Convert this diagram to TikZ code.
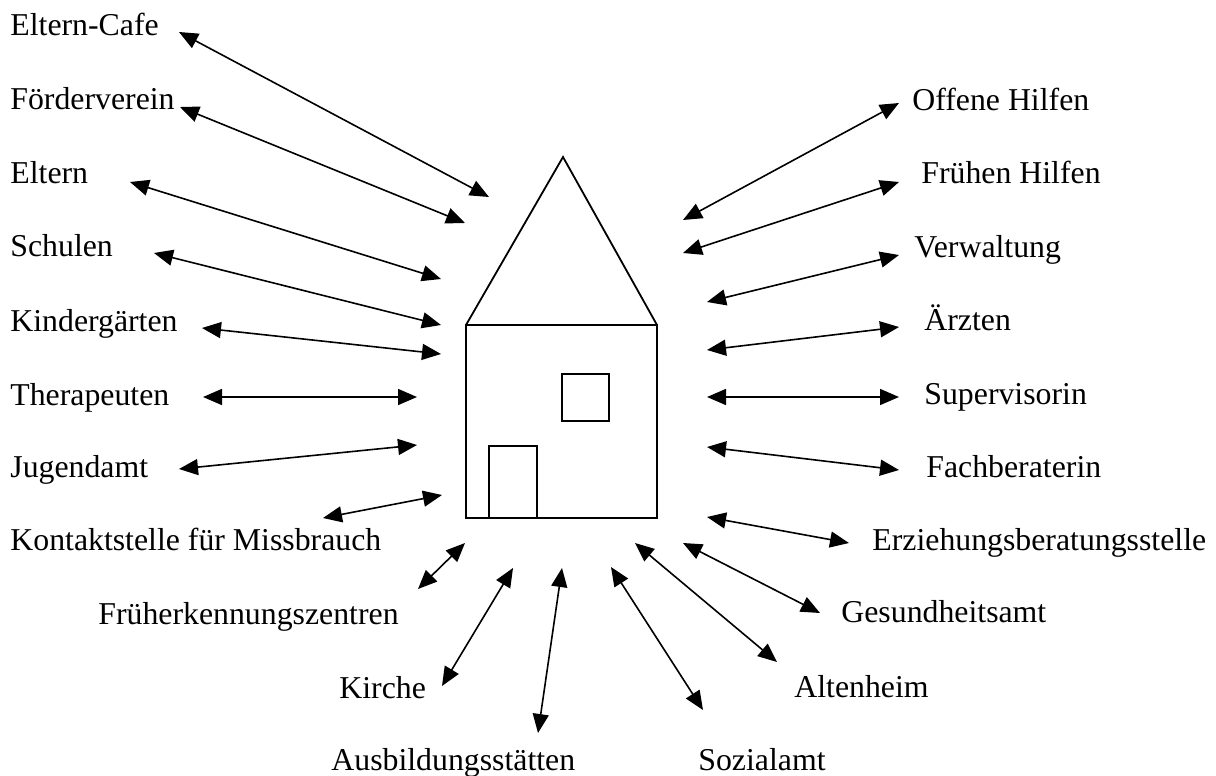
\documentclass[tikz,border=0pt]{standalone}
\usepackage{fontspec}
\setmainfont{Liberation Serif}
\usetikzlibrary{arrows.meta}

\tikzset{
  lbl/.style={anchor=base west, inner sep=0pt},
  link/.style={{Triangle[length=9.5pt,width=8pt]}-{Triangle[length=9.5pt,width=8pt]}, line width=.8pt}
}

\begin{document}
\begin{tikzpicture}[x=.5pt,y=-.5pt]\fontsize{15.9}{19}\selectfont
				\useasboundingbox (0,0) rectangle (1216,776);
				% house
				\draw[line width=.9pt] (466,325) rectangle (657,518);
				\draw[line width=.9pt] (466,325) -- (563,157) -- (657,325);
				\draw[line width=.9pt] (562,374) rectangle (609,421);
				\draw[line width=.9pt] (489,446) rectangle (537,518);
				% left column
				\node[lbl] (cafe) at (10,35) {Eltern-Cafe};
				\coordinate (cafe1) at (179,32); \coordinate (cafe2) at (489,197);
				\draw[link] (cafe1) -- (cafe2);
				\node[lbl] (foerder) at (10,109) {Förderverein};
				\coordinate (foerder1) at (180,107); \coordinate (foerder2) at (465,223);
				\draw[link] (foerder1) -- (foerder2);
				\node[lbl] (eltern) at (10,183) {Eltern};
				\coordinate (eltern1) at (130,182); \coordinate (eltern2) at (441,279);
				\draw[link] (eltern1) -- (eltern2);
				\node[lbl] (schulen) at (10,256) {Schulen};
				\coordinate (schulen1) at (154,253); \coordinate (schulen2) at (441,325);
				\draw[link] (schulen1) -- (schulen2);
				\node[lbl] (kiga) at (10,331) {Kindergärten};
				\coordinate (kiga1) at (202,328); \coordinate (kiga2) at (441,354);
				\draw[link] (kiga1) -- (kiga2);
				\node[lbl] (thera) at (10,405) {Therapeuten};
				\coordinate (thera1) at (203,397); \coordinate (thera2) at (417,397);
				\draw[link] (thera1) -- (thera2);
				\node[lbl] (jugend) at (10,477) {Jugendamt};
				\coordinate (jugend1) at (179,469); \coordinate (jugend2) at (417,445);
				\draw[link] (jugend1) -- (jugend2);
				\node[lbl] (kontakt) at (10,550) {Kontaktstelle für Missbrauch};
				\coordinate (kontakt1) at (323,518); \coordinate (kontakt2) at (442,495);
				\draw[link] (kontakt1) -- (kontakt2);
				% bottom
				\node[lbl] (frueh) at (98,624) {Früherkennungszentren};
				\coordinate (frueh1) at (418,589); \coordinate (frueh2) at (465,543);
				\draw[link] (frueh1) -- (frueh2);
				\node[lbl] (kirche) at (339,698) {Kirche};
				\coordinate (kirche1) at (442,686); \coordinate (kirche2) at (513,568);
				\draw[link] (kirche1) -- (kirche2);
				\node[lbl] (ausb) at (331,770) {Ausbildungsstätten};
				\coordinate (ausb1) at (538,733); \coordinate (ausb2) at (562,568);
				\draw[link] (ausb1) -- (ausb2);
				\node[lbl] (sozial) at (698,770) {Sozialamt};
				\coordinate (sozial1) at (703,710); \coordinate (sozial2) at (611,567);
				\draw[link] (sozial1) -- (sozial2);
				\node[lbl] (alten) at (794,697) {Altenheim};
				\coordinate (alten1) at (777,662); \coordinate (alten2) at (635,543);
				\draw[link] (alten1) -- (alten2);
				\node[lbl] (gesund) at (841,622) {Gesundheitsamt};
				\coordinate (gesund1) at (820,613); \coordinate (gesund2) at (683,543);
				\draw[link] (gesund1) -- (gesund2);
				% right column
				\node[lbl] (erz) at (872,550) {Erziehungsberatungsstelle};
				\coordinate (erz1) at (849,543); \coordinate (erz2) at (707,517);
				\draw[link] (erz1) -- (erz2);
				\node[lbl] (fach) at (926,477) {Fachberaterin};
				\coordinate (fach1) at (899,470); \coordinate (fach2) at (707,447);
				\draw[link] (fach1) -- (fach2);
				\node[lbl] (super) at (924,404) {Supervisorin};
				\coordinate (super1) at (899,397); \coordinate (super2) at (707,397);
				\draw[link] (super1) -- (super2);
				\node[lbl] (aerzte) at (924,330) {Ärzten};
				\coordinate (aerzte1) at (899,327); \coordinate (aerzte2) at (707,350);
				\draw[link] (aerzte1) -- (aerzte2);
				\node[lbl] (verw) at (914,257) {Verwaltung};
				\coordinate (verw1) at (899,255); \coordinate (verw2) at (707,302);
				\draw[link] (verw1) -- (verw2);
				\node[lbl] (fhilfen) at (921,183) {Frühen Hilfen};
				\coordinate (fhilfen1) at (899,182); \coordinate (fhilfen2) at (683,253);
				\draw[link] (fhilfen1) -- (fhilfen2);
				\node[lbl] (ohilfen) at (912,110) {Offene Hilfen};
				\coordinate (ohilfen1) at (899,103); \coordinate (ohilfen2) at (683,220);
				\draw[link] (ohilfen1) -- (ohilfen2);
			\end{tikzpicture}
\end{document}
